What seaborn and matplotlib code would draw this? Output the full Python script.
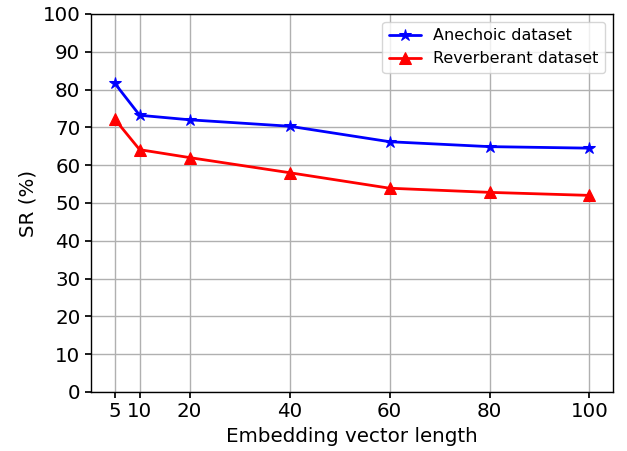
import pandas as pd
import matplotlib
matplotlib.use('Agg')
import matplotlib.pyplot as plt
import seaborn as sns

# Podaci ocitani sa grafika
duzine = [5, 10, 20, 40, 60, 80, 100]
anechoic = [81.7, 73.2, 72.0, 70.3, 66.2, 64.9, 64.5]
reverberant = [72.2, 64.1, 62.0, 58.0, 53.9, 52.8, 52.0]
serije = ['Anechoic dataset', 'Reverberant dataset']

df = pd.DataFrame({
    'Duzina': duzine * 2,
    'SR': anechoic + reverberant,
    'Skup': [serije[0]] * len(duzine) + [serije[1]] * len(duzine),
})

sns.set_theme(style="ticks")
plt.rcParams['font.family'] = ['DejaVu Sans']
plt.rcParams['text.color'] = 'black'
plt.rcParams['axes.labelcolor'] = 'black'

fig, ax = plt.subplots(figsize=(6.27, 4.51), dpi=100)
sns.lineplot(data=df, x='Duzina', y='SR', hue='Skup', style='Skup',
             palette={serije[0]: 'blue', serije[1]: 'red'},
             markers={serije[0]: '*', serije[1]: '^'},
             dashes=False, linewidth=2, markersize=9, ax=ax)

# markeri u boji linije
for linija in ax.get_lines():
    linija.set_markeredgecolor(linija.get_color())
    linija.set_markerfacecolor(linija.get_color())

ax.set_ylim(0, 100)
ax.set_yticks(range(0, 101, 10))
ax.set_xticks(duzine)
ax.margins(x=0.05)
ax.grid(True, color='#b0b0b0', linewidth=1)
ax.set_axisbelow(True)
for s in ax.spines.values():
    s.set_color('black')
    s.set_linewidth(1)
ax.tick_params(labelsize=14.3, colors='black', length=4)
ax.set_xlabel('Embedding vector length', fontsize=14.3, color='black')
ax.set_ylabel('SR (%)', fontsize=14.3, color='black')

leg = ax.legend(loc='upper right', fontsize=11.5, framealpha=0.8)
for linija in leg.get_lines():
    linija.set_markeredgecolor(linija.get_color())
    linija.set_markerfacecolor(linija.get_color())
for t in leg.get_texts():
    t.set_color('black')

plt.subplots_adjust(left=0.145, right=0.978, top=0.969, bottom=0.131)
plt.savefig('out.png', dpi=100)
plt.close()
